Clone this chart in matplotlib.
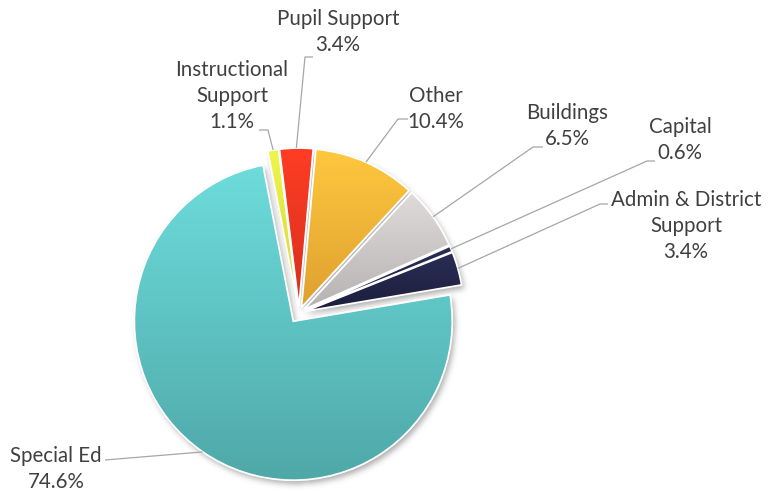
import numpy as np
import matplotlib
matplotlib.use("Agg")
import matplotlib.pyplot as plt
from matplotlib.path import Path
from matplotlib.colors import to_rgb

# Spending shares (percent), listed clockwise from the top of the pie
categories = ["Instructional\nSupport", "Pupil Support", "Other", "Buildings",
              "Capital", "Admin & District\nSupport", "Special Ed"]
shares = [1.1, 3.4, 10.4, 6.5, 0.6, 3.4, 74.6]

# Vertical gradient fills: colour at the top and bottom of each slice
top_colors = ["#EEF64C", "#FF3D24", "#FFC83E", "#DFDBDB", "#2A2E56", "#2A2E56", "#6EDCDC"]
bottom_colors = ["#D6D43E", "#D62F1E", "#DEA030", "#B6B2B2", "#1C1E3C", "#1C1E3C", "#4FA8A8"]

# Label anchor (centre of text block), leader-line elbow and end, in pixels
label_pos = [(232, 397), (338, 461), (436, 384), (567, 367), (680, 353), (686, 267), (56, 24)]
elbow_pos = [(268, 363), (305, 436), (398, 374), (533, 346), (647, 332), (600, 289), None]
end_pos = [(259, 363), (313, 436), (408, 374), (543, 346), (655, 332), (608, 289), (105, 33)]

W, H = 768, 493
fig = plt.figure(figsize=(W / 100, H / 100), dpi=100)
ax = fig.add_axes([0, 0, 1, 1])

center = (299, 180)
R = 159
# pie offsets are in data units (pixels here)
explode = [6] * 6 + [10]

wedges, _ = ax.pie(shares, radius=R, center=center, startangle=101,
                   counterclock=False, explode=explode, frame=False,
                   wedgeprops=dict(edgecolor="white", linewidth=1.3))

# Soft drop shadow under the slices
yy, xx = np.mgrid[0:H, 0:W] + 0.5
pts = np.column_stack([xx.ravel(), yy.ravel()])
mask = np.zeros(H * W)
for w in wedges:
    p = w.get_path()
    shifted = Path(p.vertices + np.array([2.5, -3.5]), p.codes)
    mask = np.maximum(mask, shifted.contains_points(pts).astype(float))
mask = mask.reshape(H, W)
sigma = 3.0
k = np.arange(-10, 11)
kern = np.exp(-k ** 2 / (2 * sigma ** 2))
kern /= kern.sum()
blur = np.apply_along_axis(lambda r: np.convolve(r, kern, mode="same"), 1, mask)
blur = np.apply_along_axis(lambda c: np.convolve(c, kern, mode="same"), 0, blur)
shadow = np.zeros((H, W, 4))
shadow[..., :3] = 0.35
shadow[..., 3] = blur * 0.5
ax.imshow(shadow, extent=[0, W, 0, H], origin="lower", zorder=0.5,
          interpolation="bilinear")

# Gradient fill clipped to each wedge
for w, c0, c1 in zip(wedges, top_colors, bottom_colors):
    v = w.get_path().vertices
    x0, y0 = v.min(0)
    x1, y1 = v.max(0)
    t = np.linspace(0, 1, 256)[:, None]
    cols = np.array(to_rgb(c0)) * (1 - t) + np.array(to_rgb(c1)) * t
    im = ax.imshow(cols[:, None, :], extent=[x0, x1, y0, y1], origin="upper",
                   aspect="auto", interpolation="bilinear", zorder=1)
    im.set_clip_path(w)
    w.set_facecolor("none")
    w.set_zorder(2)

# Data labels with leader lines
for w, name, val, lp, ep, end in zip(wedges, categories, shares,
                                     label_pos, elbow_pos, end_pos):
    mid = np.deg2rad((w.theta1 + w.theta2) / 2)
    cx, cy = w.center
    sx, sy = cx + w.r * np.cos(mid), cy + w.r * np.sin(mid)
    if ep is None:
        xs, ys = [sx, end[0]], [sy, end[1]]
    else:
        xs, ys = [sx, ep[0], end[0]], [sy, ep[1], end[1]]
    ax.plot(xs, ys, color="#A6A6A6", lw=0.9, zorder=3, solid_capstyle="butt")
    ax.text(lp[0], lp[1], f"{name}\n{val:.1f}%", ha="center", va="center",
            multialignment="center", fontsize=14.8, family="Lato",
            color="#404040", linespacing=1.35, zorder=4)

ax.set_xlim(0, W)
ax.set_ylim(0, H)
ax.set_aspect("equal")
ax.axis("off")
fig.savefig("out.png", dpi=100)
